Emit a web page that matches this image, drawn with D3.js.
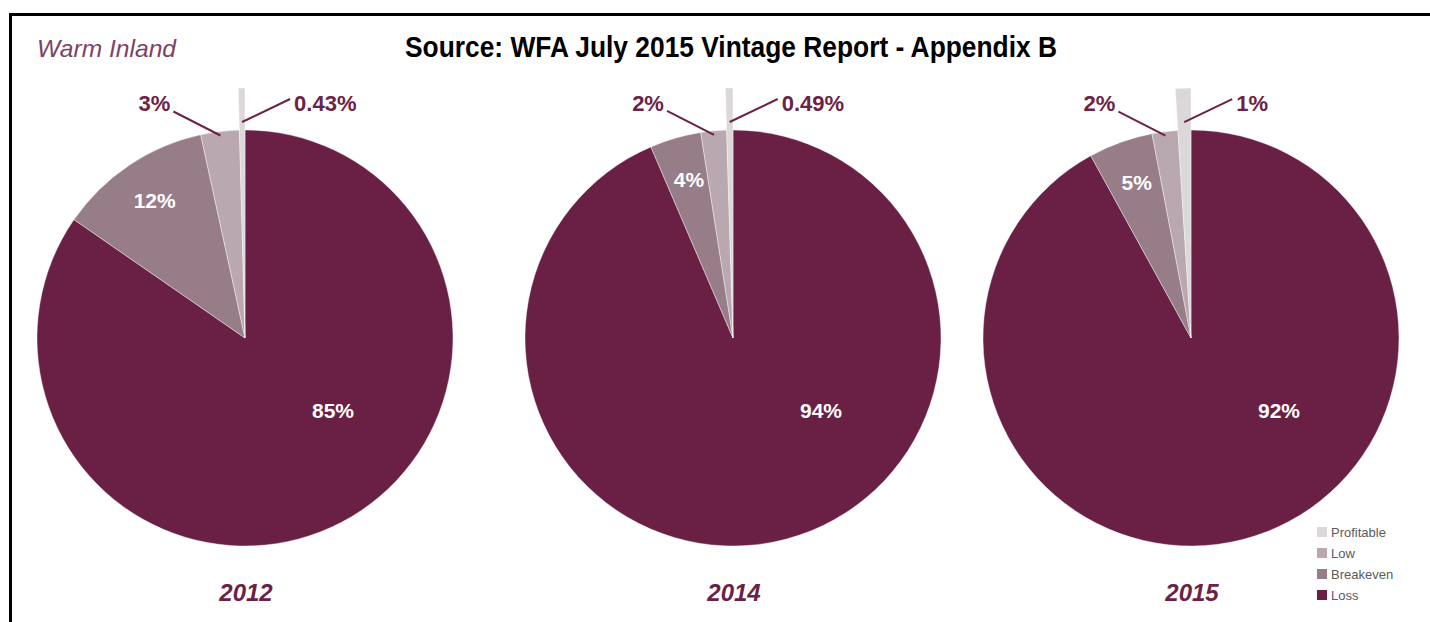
<!DOCTYPE html>
<html><head><meta charset="utf-8">
<script src="https://cdn.jsdelivr.net/npm/d3@7"></script>
<style>html,body{margin:0;padding:0;background:#fff;overflow:hidden}</style>
</head><body>
<svg id="chart" width="1430" height="622"></svg>
<script>
const years = ["2012", "2014", "2015"];
const categories = ["Loss", "Breakeven", "Low", "Profitable"];
const loss = [85, 94, 92];
const breakeven = [12, 4, 5];
const low = [3, 2, 2];
const profitable = [0.43, 0.49, 1];
const legendOrder = ["Profitable", "Low", "Breakeven", "Loss"];
const titleText = "Source: WFA July 2015 Vintage Report - Appendix B";
const regionText = "Warm Inland";

const colors = d3.scaleOrdinal().domain(categories)
  .range(["#6a1f45", "#977d88", "#b9a8af", "#dcd7d9"]);
const labelColor = "#6b2246";

const svg = d3.select("#chart");
const W = 1430, H = 622;
svg.append("rect").attr("width", W).attr("height", H).attr("fill", "#fff");
svg.append("rect").attr("x", 10.5).attr("y", 14.5).attr("width", W + 20).attr("height", H + 20)
  .attr("fill", "none").attr("stroke", "#000").attr("stroke-width", 3);

svg.append("text").attr("x", 731).attr("y", 57).attr("text-anchor", "middle")
  .attr("font-family", "'Liberation Sans Narrow','Arial Narrow','Liberation Sans',sans-serif")
  .attr("font-weight", "bold").attr("font-size", 30)
  .attr("textLength", 652).attr("lengthAdjust", "spacingAndGlyphs")
  .attr("fill", "#000").text(titleText);

svg.append("text").attr("x", 37).attr("y", 57)
  .attr("font-family", "'Liberation Sans',Arial,sans-serif").attr("font-style", "italic")
  .attr("font-size", 24).attr("fill", "#7d4264")
  .attr("textLength", 139).attr("lengthAdjust", "spacingAndGlyphs").text(regionText);

const cx = d3.scaleOrdinal().domain(years).range([245, 733, 1191]);
const cy = 338, R = 208, Rp = 250;

const pie = d3.pie().sort(null).value(d => d.value);
const arc = d3.arc().innerRadius(0);
const font = "'Liberation Sans',Arial,sans-serif";

years.forEach((yr, i) => {
  const data = [
    {cat: "Loss", value: loss[i]},
    {cat: "Breakeven", value: breakeven[i]},
    {cat: "Low", value: low[i]},
    {cat: "Profitable", value: profitable[i]}
  ];
  const arcs = pie(data);
  const g = svg.append("g").attr("transform", `translate(${cx(yr)},${cy})`);
  g.selectAll("path").data(arcs).join("path")
    .attr("d", d => arc.outerRadius(d.data.cat === "Profitable" ? Rp : R)(d))
    .attr("fill", d => colors(d.data.cat))
    .attr("stroke", "#fff").attr("stroke-width", 0.4);

  const fmt = v => v + "%";
  g.append("text").attr("x", 88).attr("y", 80).attr("text-anchor", "middle")
    .attr("font-family", font).attr("font-weight", "bold")
    .attr("font-size", 21).attr("fill", "#fff").text(fmt(loss[i]));
  const be = arcs[1];
  const c = d3.arc().innerRadius(166).outerRadius(166).centroid(be);
  g.append("text").attr("x", c[0] + 2).attr("y", c[1] + 8).attr("text-anchor", "middle")
    .attr("font-family", font).attr("font-weight", "bold")
    .attr("font-size", 21).attr("fill", "#fff").text(fmt(breakeven[i]));

  const lo = arcs[2];
  const la = (lo.startAngle + lo.endAngle) / 2;
  const lp = [204 * Math.sin(la), -204 * Math.cos(la)];
  const ls = [lp[0] - 47, lp[1] - 24];
  g.append("line").attr("x1", lp[0]).attr("y1", lp[1]).attr("x2", ls[0]).attr("y2", ls[1])
    .attr("stroke", labelColor).attr("stroke-width", 2);
  g.append("text").attr("x", ls[0] - 19).attr("y", -227).attr("text-anchor", "middle")
    .attr("font-family", font).attr("font-weight", "bold")
    .attr("font-size", 22).attr("fill", labelColor).text(fmt(low[i]));

  const pr = arcs[3];
  const pa = (pr.startAngle + pr.endAngle) / 2;
  const pp = [216 * Math.sin(pa), -216 * Math.cos(pa)];
  const ps = [pp[0] + 48, pp[1] - 23];
  g.append("line").attr("x1", pp[0]).attr("y1", pp[1]).attr("x2", ps[0]).attr("y2", ps[1])
    .attr("stroke", labelColor).attr("stroke-width", 2);
  g.append("text").attr("x", ps[0] + 4).attr("y", -227).attr("text-anchor", "start")
    .attr("font-family", font).attr("font-weight", "bold")
    .attr("font-size", 22).attr("fill", labelColor).text(fmt(profitable[i]));

  svg.append("text").attr("x", cx(yr) + 1).attr("y", 601).attr("text-anchor", "middle")
    .attr("font-family", font).attr("font-style", "italic").attr("font-weight", "bold")
    .attr("font-size", 24).attr("fill", labelColor).text(yr);
});

const lg = svg.append("g").attr("transform", "translate(1317,527)");
const li = lg.selectAll("g").data(legendOrder).join("g")
  .attr("transform", (d, i) => `translate(0,${i * 21})`);
li.append("rect").attr("width", 10).attr("height", 10).attr("fill", d => colors(d));
li.append("text").attr("x", 14).attr("y", 10)
  .attr("font-family", font).attr("font-size", 13)
  .attr("fill", "#5a5a5a").text(d => d);
</script>
</body></html>
